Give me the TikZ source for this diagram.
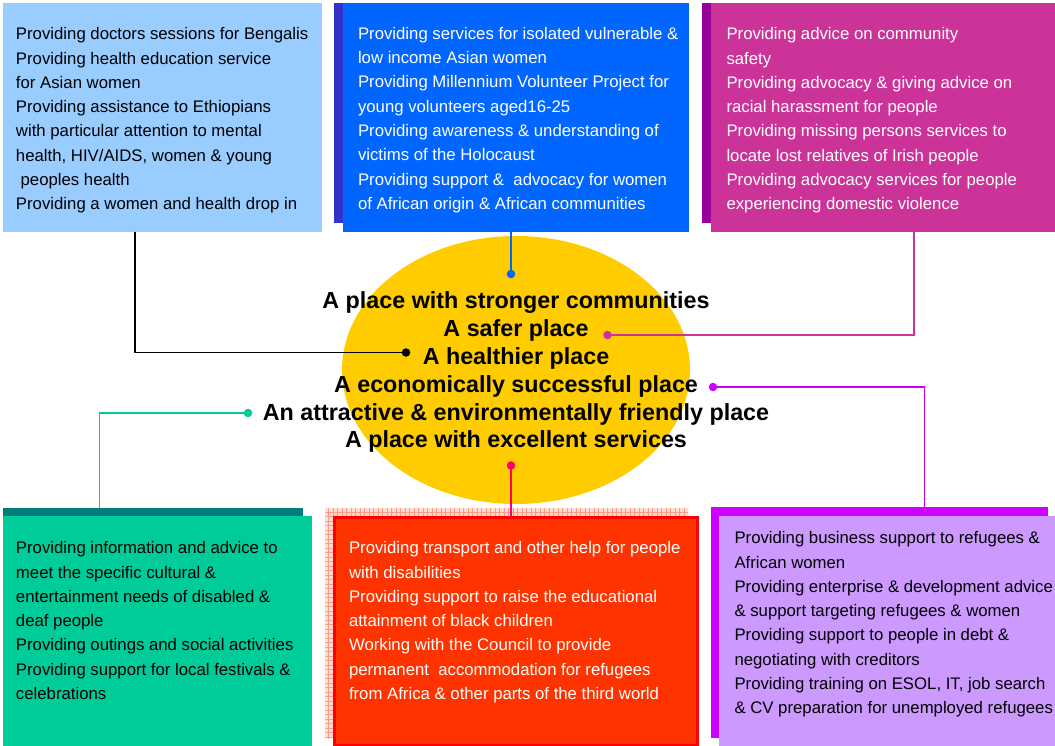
\documentclass[tikz,border=0pt]{standalone}
\usepackage{fontspec}
\setmainfont{Liberation Sans}
\usetikzlibrary{shapes.geometric,patterns.meta}
\definecolor{bOne}{HTML}{99CCFF}
\definecolor{bTwo}{HTML}{0066FF}
\definecolor{bTwoS}{HTML}{3333CC}
\definecolor{bThree}{HTML}{CC3399}
\definecolor{bThreeS}{HTML}{990099}
\definecolor{bFour}{HTML}{00CC99}
\definecolor{bFourS}{HTML}{007C7C}
\definecolor{bFive}{HTML}{FF3300}
\definecolor{bFiveB}{HTML}{FF0000}
\definecolor{bFiveS}{HTML}{FFDCD2}
\definecolor{bFiveG}{HTML}{FF9A85}
\definecolor{bSix}{HTML}{CC99FF}
\definecolor{bSixS}{HTML}{CC00FF}
\definecolor{ell}{HTML}{FFCC00}
\definecolor{redline}{HTML}{FF0066}
\begin{document}
\begin{tikzpicture}[x=1pt,y=-1pt,
  box/.style={rectangle,draw=none,inner sep=0pt,outer sep=0pt,anchor=north west},
  txt/.style={inner sep=0pt,outer sep=0pt,anchor=north west,align=left,font=\fontsize{16.75}{24.3}\selectfont},
  dot/.style={circle,inner sep=0pt,minimum size=8.5pt,draw=none},
  conn/.style={line width=1.6pt}]
\useasboundingbox (0,0) rectangle (1055,746);
% top row
\node[box,fill=bOne,minimum width=319pt,minimum height=229pt] (b1) at (3,3) {};
\node[box,fill=bTwoS,minimum width=346pt,minimum height=220pt] (s2) at (334,3) {};
\node[box,fill=bTwo,minimum width=346pt,minimum height=229pt] (b2) at (343,3) {};
\node[box,fill=bThreeS,minimum width=344pt,minimum height=220pt] (s3) at (702,3) {};
\node[box,fill=bThree,minimum width=344pt,minimum height=229pt] (b3) at (711,3) {};
% bottom row
\node[box,fill=bFourS,minimum width=300pt,minimum height=230pt] (s4) at (3,508) {};
\node[box,fill=bFour,minimum width=309pt,minimum height=230pt] (b4) at (3,516) {};
\node[box,fill=bFiveS,minimum width=363pt,minimum height=230pt] (s5) at (325,508) {};
\fill[pattern={Lines[angle=0,distance=4.5pt,line width=0.6pt]},pattern color=bFiveG] (s5.north west) rectangle (s5.south east);
\fill[pattern={Lines[angle=90,distance=4.5pt,line width=0.6pt]},pattern color=bFiveG] (s5.north west) rectangle (s5.south east);
\node[box,fill=bFive,draw=bFiveB,line width=3pt,minimum width=363pt,minimum height=228pt] (b5) at (334,517) {};
\node[box,fill=bSixS,minimum width=337pt,minimum height=231pt] (s6) at (711,507) {};
\node[box,fill=bSix,minimum width=336pt,minimum height=230pt] (b6) at (719,516) {};
% ellipse
\node[ellipse,fill=ell,draw=none,inner sep=0pt,minimum width=348pt,minimum height=268pt] (e) at (516,370) {};
% texts
\node[txt] (t1) at (16,27.6) {Providing doctors sessions for Bengalis\\Providing health education service\\for Asian women\\Providing assistance to Ethiopians\\with particular attention to mental\\health, HIV/AIDS, women \& young\\\ peoples health\\Providing a women and health drop in};
\node[txt,text=white] (t2) at (358,27.1) {Providing services for isolated vulnerable \&\\low income Asian women\\Providing Millennium Volunteer Project for\\young volunteers aged16-25\\Providing awareness \& understanding of\\victims of the Holocaust\\Providing support \&\ \ advocacy for women\\of African origin \& African communities};
\node[txt,text=white] (t3) at (726.5,27.6) {Providing advice on community\\safety\\Providing advocacy \& giving advice on\\racial harassment for people\\Providing missing persons services to\\locate lost relatives of Irish people\\Providing advocacy services for people\\experiencing domestic violence};
\node[txt] (t4) at (16,541.6) {Providing information and advice to\\meet the specific cultural \&\\entertainment needs of disabled \&\\deaf people\\Providing outings and social activities\\Providing support for local festivals \&\\celebrations};
\node[txt,text=white] (t5) at (349,541.6) {Providing transport and other help for people\\with disabilities\\Providing support to raise the educational\\attainment of black children\\Working with the Council to provide\\permanent\ \ accommodation for refugees\\from Africa \& other parts of the third world};
\node[txt] (t6) at (734.5,531.6) {Providing business support to refugees \&\\African women\\Providing enterprise \& development advice\\\& support targeting refugees \& women\\Providing support to people in debt \&\\negotiating with creditors\\Providing training on ESOL, IT, job search\\\& CV preparation for unemployed refugees};
\node[inner sep=0pt,outer sep=0pt,anchor=north,align=center,font=\fontsize{23.3}{27.8}\selectfont\bfseries] (ct) at (516,292) {A place with stronger communities\\A safer place\\A healthier place\\A economically successful place\\An attractive \& environmentally friendly place\\A place with excellent services};
% dots
\node[dot,fill=bTwo] (d2) at (511,274) {};
\node[dot,fill=bThree] (d3) at (607.5,335) {};
\node[dot,fill=black] (d1) at (406,352.5) {};
\node[dot,fill=bSixS] (d6) at (713,387) {};
\node[dot,fill=bFour] (d4) at (248,413) {};
\node[dot,fill=redline] (d5) at (511,465.5) {};
% connector ends on boxes
\coordinate (k1) at (135,232);
\coordinate (k3) at (914,232);
\coordinate (k4) at (99.5,508);
\coordinate (k6) at (924.5,507);
% connectors
\draw[conn,black] (k1) |- (d1.center);
\draw[conn,bTwo] (d2.center |- b2.south) -- (d2.center);
\draw[conn,bThree] (d3.center) -| (k3);
\draw[conn,bSixS] (d6.center) -| (k6);
\draw[conn,bFour] (d4.center) -| (k4);
\draw[conn,redline] (d5.center) -- (d5.center |- b5.north);
\end{tikzpicture}
\end{document}
